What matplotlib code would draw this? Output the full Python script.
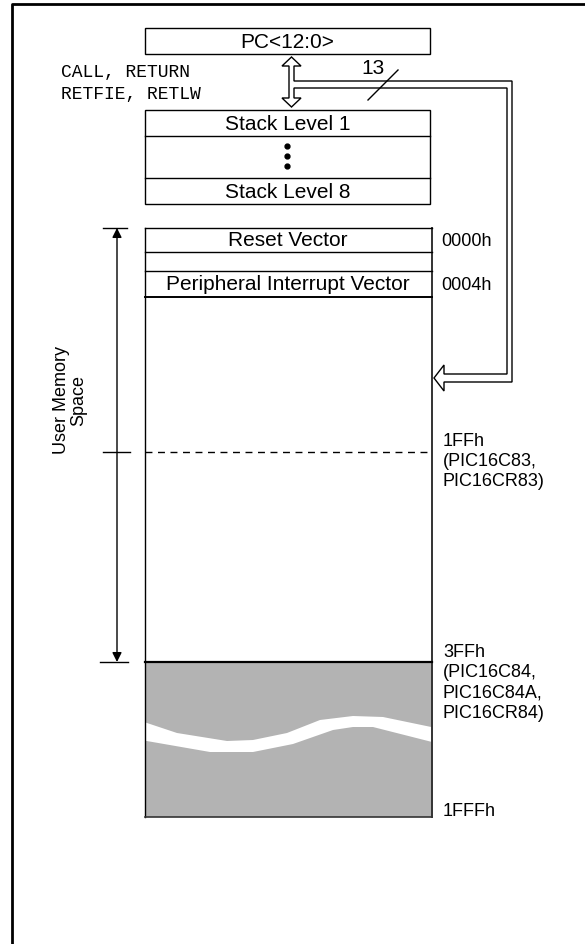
import matplotlib
matplotlib.use("Agg")
import matplotlib.pyplot as plt
from matplotlib.patches import Rectangle, Polygon

# ---- content ----
pc_label = "PC<12:0>"
instr_lines = ["CALL, RETURN", "RETFIE, RETLW"]
stack_labels = ["Stack Level 1", "Stack Level 8"]
bus_width = "13"
vector_labels = ["Reset Vector", "Peripheral Interrupt Vector"]
vector_addrs = ["0000h", "0004h"]
boundary_labels = ["1FFh\n(PIC16C83,\nPIC16CR83)",
                   "3FFh\n(PIC16C84,\nPIC16C84A,\nPIC16CR84)",
                   "1FFFh"]
side_label = "User Memory\nSpace"

SANS = ["Liberation Sans", "DejaVu Sans"]
MONO = ["Liberation Mono", "DejaVu Sans Mono"]
GRAY = "#b3b3b3"

fig = plt.figure(figsize=(5.85, 9.45), dpi=100)
ax = fig.add_axes([0, 0, 1, 1])
ax.set_xlim(0, 585)
ax.set_ylim(945, 0)
ax.axis("off")

LW = 1.0
# outer frame (left and top only visible)
ax.plot([12, 12, 585], [945, 5, 5], color="black", lw=2.0, solid_capstyle="butt")

# PC box
ax.add_patch(Rectangle((145, 29), 285, 26, fill=False, ec="black", lw=LW))
ax.text(287.5, 42, pc_label, ha="center", va="center", fontsize=15, family=SANS)

# instruction text
ax.text(61, 73, instr_lines[0], ha="left", va="center", fontsize=13, family=MONO)
ax.text(61, 95, instr_lines[1], ha="left", va="center", fontsize=13, family=MONO)

# stack box
ax.add_patch(Rectangle((145, 111), 285, 94, fill=False, ec="black", lw=LW))
ax.plot([145, 430], [137, 137], color="black", lw=LW)
ax.plot([145, 430], [179, 179], color="black", lw=LW)
ax.text(287.5, 124, stack_labels[0], ha="center", va="center", fontsize=15, family=SANS)
ax.text(287.5, 192, stack_labels[1], ha="center", va="center", fontsize=15, family=SANS)
ax.plot([287, 287, 287], [147, 157, 167], "o", color="black", ms=3.5)

# hollow double arrow + bus to program memory
bus = [(291.5, 58), (301, 67), (294, 67), (294, 82), (512, 82), (512, 383),
       (444, 383), (444, 392), (434, 379), (444, 366), (444, 375), (507, 375),
       (507, 89), (294, 89), (294, 99), (301, 99), (291.5, 108), (282, 99),
       (289, 99), (289, 67), (282, 67)]
ax.add_patch(Polygon(bus, closed=True, fc="white", ec="black", lw=LW, joinstyle="miter"))
ax.plot([368, 398], [101, 71], color="black", lw=LW)
ax.text(373, 68, bus_width, ha="center", va="center", fontsize=15, family=SANS)

# program memory
X0, X1 = 145, 432
ax.add_patch(Rectangle((X0, 663), X1 - X0, 155, fc=GRAY, ec="none"))
ax.plot([X0, X0], [229, 818], color="black", lw=LW)
ax.plot([X1, X1], [229, 818], color="#333333", lw=1.4)
ax.plot([X0, X1], [229, 229], color="black", lw=LW)
ax.plot([X0, X1], [253, 253], color="black", lw=LW)
ax.plot([X0, X1], [272, 272], color="black", lw=LW)
ax.plot([X0, X1], [298, 298], color="black", lw=1.4)
ax.plot([X0, X1], [663, 663], color="black", lw=1.6)
ax.plot([X0, X1], [818, 818], color="#333333", lw=1.2)
ax.plot([X0, X1], [453, 453], color="black", lw=LW, dashes=(5, 4))
ax.text(287.5, 241, vector_labels[0], ha="center", va="center", fontsize=15, family=SANS)
ax.text(287.5, 285, vector_labels[1], ha="center", va="center", fontsize=15, family=SANS)

# white break band in the unimplemented region
upper = [(141, 722), (177, 734), (227, 742), (253, 741), (287, 734), (320, 721),
         (353, 717), (383, 718), (436, 729)]
lower = [(141, 741), (210, 753), (253, 753), (293, 745), (333, 731), (353, 728),
         (373, 728), (436, 744)]
ax.add_patch(Polygon(upper + lower[::-1], closed=True, fc="white", ec="none"))

# address labels
ax.text(441, 241, vector_addrs[0], ha="left", va="center", fontsize=13, family=SANS)
ax.text(441, 285, vector_addrs[1], ha="left", va="center", fontsize=13, family=SANS)
ax.text(443, 433, boundary_labels[0], ha="left", va="top", fontsize=13, family=SANS,
        linespacing=1.25)
ax.text(443, 644, boundary_labels[1], ha="left", va="top", fontsize=13, family=SANS,
        linespacing=1.25)
ax.text(443, 811, boundary_labels[2], ha="left", va="center", fontsize=13, family=SANS)

# user memory dimension arrow
ax.annotate("", xy=(117, 229), xytext=(117, 663),
            arrowprops=dict(arrowstyle="<|-|>", color="black", lw=LW,
                            mutation_scale=14, shrinkA=0, shrinkB=0))
ax.plot([103, 127], [229, 229], color="black", lw=LW)
ax.plot([103, 130], [453, 453], color="black", lw=LW)
ax.plot([100, 128], [663, 663], color="black", lw=LW)
ax.text(70, 400, side_label, ha="center", va="center", rotation=90, fontsize=13,
        family=SANS, linespacing=1.0)

fig.savefig("out.png", dpi=100)
